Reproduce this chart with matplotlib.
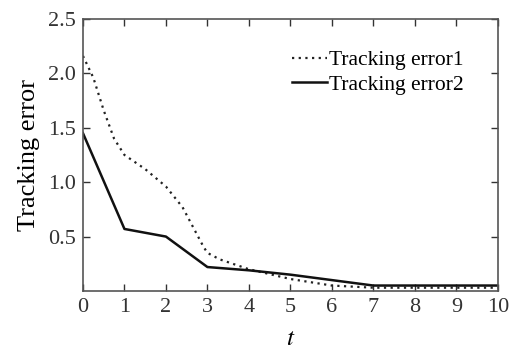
import matplotlib.pyplot as plt

# tracking error 1 (dotted)
t1 = [0, 0.25, 0.5, 0.75, 1, 1.5, 2, 2.4, 2.65, 2.9, 3, 3.3, 4, 5, 6, 7, 8, 9, 10]
err1 = [2.16, 1.96, 1.66, 1.40, 1.25, 1.12, 0.96, 0.77, 0.59, 0.41, 0.35, 0.29, 0.20, 0.11, 0.05, 0.03, 0.03, 0.03, 0.03]

# tracking error 2 (solid)
t2 = [0, 1, 2, 3, 4, 5, 6, 7, 8, 9, 10]
err2 = [1.45, 0.57, 0.50, 0.22, 0.19, 0.15, 0.10, 0.05, 0.05, 0.05, 0.05]

plt.rcParams['font.family'] = ['Liberation Serif', 'DejaVu Serif']
plt.rcParams['mathtext.fontset'] = 'stix'

fig = plt.figure(figsize=(5.09, 3.51), dpi=100)
ax = fig.add_axes([0.163, 0.171, 0.815, 0.775])

ax.plot(t1, err1, color='#222222', lw=1.6, linestyle=(0, (1, 2)), label='Tracking error1')
ax.plot(t2, err2, color='#111111', lw=1.8, label='Tracking error2')

ax.set_xlim(0, 10)
ax.set_ylim(0, 2.5)
ax.set_xticks(range(0, 11))
ax.set_yticks([0.5, 1.0, 1.5, 2.0, 2.5])
ax.set_yticklabels(['0.5', '1.0', '1.5', '2.0', '2.5'])
ax.tick_params(direction='in', top=True, right=True, length=5, width=1,
               labelsize=16, colors='#333333', pad=5)
for s in ax.spines.values():
    s.set_color('#555555')
    s.set_linewidth(1.2)

ax.set_xlabel('$t$', fontsize=18, labelpad=8)
ax.set_ylabel('Tracking error', fontsize=19, labelpad=6)

ax.legend(loc='upper left', bbox_to_anchor=(0.505, 0.885), frameon=False,
          fontsize=15.5, handlelength=1.6, handletextpad=0.1,
          borderpad=0, borderaxespad=0, labelspacing=0.2)

fig.savefig('out.png', dpi=100)
